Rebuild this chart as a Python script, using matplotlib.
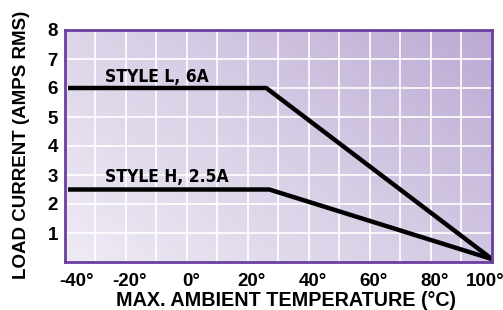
import matplotlib
matplotlib.use("Agg")
import matplotlib.pyplot as plt
import matplotlib.transforms as mtransforms
import numpy as np
from matplotlib.colors import LinearSegmentedColormap
from matplotlib import font_manager

# Data
temps_L = [-39, 26, 100]
current_L = [6.0, 6.0, 0.1]
temps_H = [-39, 27, 100]
current_H = [2.5, 2.5, 0.1]
x_ticks = [-40, -20, 0, 20, 40, 60, 80, 100]
x_tick_labels = ["-40°", "-20°", "0°", "20°", "40°", "60°", "80°", "100°"]
y_ticks = [1, 2, 3, 4, 5, 6, 7, 8]
y_tick_labels = ["1", "2", "3", "4", "5", "6", "7", "8"]
label_L = "STYLE L, 6A"
label_H = "STYLE H, 2.5A"
xlabel = "MAX. AMBIENT TEMPERATURE (°C)"
ylabel = "LOAD CURRENT (AMPS RMS)"

names = {f.name for f in font_manager.fontManager.ttflist}
if "Liberation Sans Narrow" in names:
    narrow_fam = ["Liberation Sans Narrow", "DejaVu Sans"]
    narrow_stretch = "normal"
else:
    narrow_fam = ["DejaVu Sans", "Liberation Sans"]
    narrow_stretch = "condensed"

fig = plt.figure(figsize=(5.03, 3.10), dpi=100)
ax = fig.add_axes([65/503, 48/310, 427/503, 232/310])

# Gradient background
nx, ny = 200, 200
gx = np.linspace(0, 1, nx)
gy = np.linspace(0, 1, ny)
GX, GY = np.meshgrid(gx, gy)
G = (GX * 0.6 + GY * 0.4)
cmap = LinearSegmentedColormap.from_list("bg", ["#efebf4", "#d8cfe6", "#bba9d3"])
ax.imshow(G, cmap=cmap, origin="lower", extent=[0, 1, 0, 1],
          transform=ax.transAxes, aspect="auto", zorder=0)

ax.set_xlim(-40, 100)
ax.set_ylim(0, 8)

# grid
for gxv in range(-30, 100, 10):
    ax.axvline(gxv, color="white", lw=1.2, zorder=1)
for gyv in range(1, 8):
    ax.axhline(gyv, color="white", lw=1.2, zorder=1)

ax.plot(temps_L, current_L, color="black", lw=3.2, zorder=3, solid_capstyle="butt")
ax.plot(temps_H, current_H, color="black", lw=3.2, zorder=3, solid_capstyle="butt")

ax.text(-26.9, 6.22, label_L, fontsize=12.5, fontweight="bold", family=narrow_fam,
        fontstretch=narrow_stretch, zorder=4)
ax.text(-26.9, 2.75, label_H, fontsize=12.5, fontweight="bold", family=narrow_fam,
        fontstretch=narrow_stretch, zorder=4)

lib = ["Liberation Sans", "DejaVu Sans"]
ax.set_xticks(x_ticks)
ax.set_xticklabels([])
ax.set_yticks(y_ticks)
ax.set_yticklabels(y_tick_labels, fontsize=13.5, fontweight="bold", family=lib)
ax.tick_params(length=0)
ax.tick_params(axis="y", pad=5)

# x tick labels: digits centred on the grid line, end labels nudged inside
blend = mtransforms.blended_transform_factory(ax.transData, ax.transAxes)
for xv, txt in zip(x_ticks, x_tick_labels):
    dx_px = 3.7
    if xv == x_ticks[0]:
        dx_px += 8
    elif xv == x_ticks[-1]:
        dx_px -= 11
    tr = blend + mtransforms.ScaledTranslation(dx_px / 100, -11 / 100, fig.dpi_scale_trans)
    ax.text(xv, 0, txt, transform=tr, ha="center", va="top", fontsize=13.5,
            fontweight="bold", family=lib, clip_on=False)

for s in ax.spines.values():
    s.set_color("#6a3fa0")
    s.set_linewidth(2)
    s.set_zorder(5)

fig.text(285.5/503, 1 - 300/310, xlabel, fontsize=14.2, fontweight="bold", family=lib,
         ha="center", va="center")
fig.text(21.5/503, 1 - 144.5/310, ylabel, rotation=90, fontsize=13.5, fontweight="bold",
         family=lib, ha="center", va="center")

fig.savefig("out.png", dpi=100)
